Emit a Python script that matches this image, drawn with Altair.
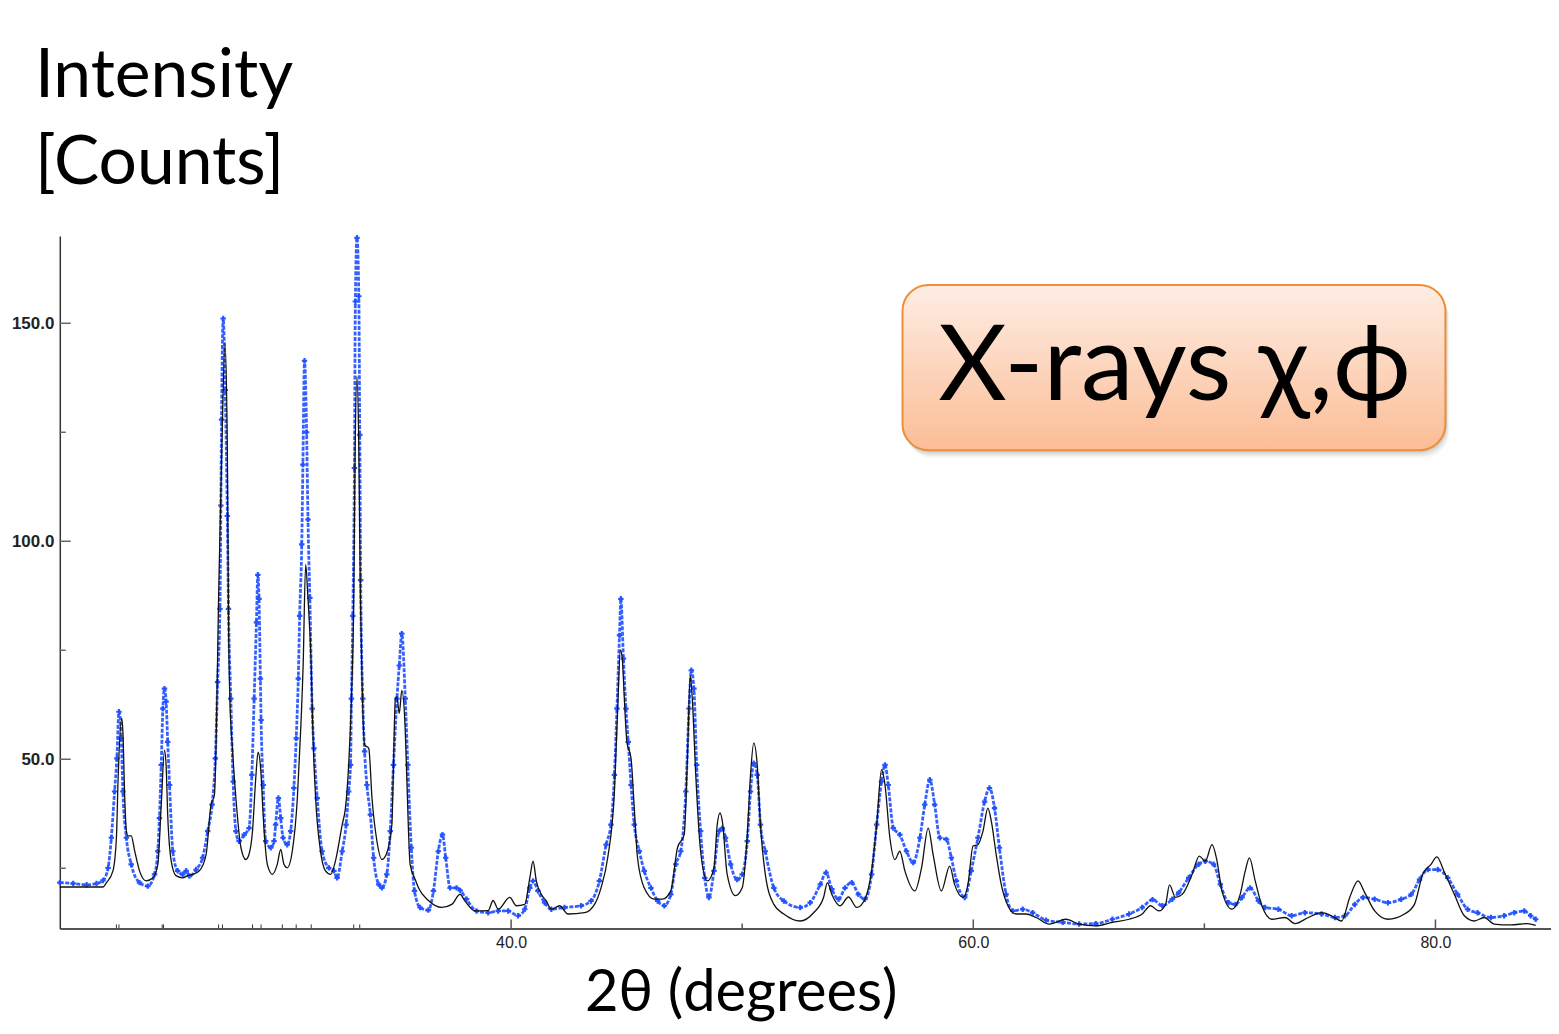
import altair as alt
import pandas as pd

# ---- data (2theta in degrees, intensity in counts) ----
calc_tth = [20.47, 21.63, 22.34, 22.49, 22.77, 22.92, 22.99, 23.15, 23.20, 23.28, 23.35, 23.42, 23.56, 23.71,
            23.92, 24.21, 24.50, 24.71, 24.86, 25.00, 25.07, 25.14, 25.29, 25.50, 25.79, 26.00, 26.22, 26.51,
            26.80, 27.01, 27.16, 27.23, 27.34, 27.48, 27.62, 27.72, 27.77, 27.83, 27.94, 28.09, 28.31, 28.52,
            28.66, 28.81, 28.95, 29.05, 29.17, 29.27, 29.45, 29.67, 29.88, 30.03, 30.17, 30.31, 30.53, 30.75,
            30.89, 31.00, 31.11, 31.21, 31.35, 31.42, 31.54, 31.75, 31.97, 32.19, 32.40, 32.69, 32.83, 32.97,
            33.09, 33.19, 33.25, 33.33, 33.41, 33.48, 33.55, 33.66, 33.84, 33.98, 34.19, 34.41, 34.62, 34.84,
            34.91, 34.99, 35.06, 35.16, 35.27, 35.42, 35.49, 35.63, 35.85, 35.99, 36.42, 37.00, 37.43, 37.79,
            38.00, 38.44, 39.01, 39.22, 39.44, 39.94, 40.23, 40.59, 40.81, 40.95, 41.09, 41.31, 41.52, 41.74,
            42.10, 42.46, 43.18, 43.61, 43.89, 44.18, 44.47, 44.61, 44.73, 44.81, 44.90, 45.01, 45.19, 45.33,
            45.47, 45.76, 46.19, 46.55, 46.91, 47.20, 47.49, 47.63, 47.75, 47.84, 47.99, 48.20, 48.49, 48.78,
            48.92, 49.04, 49.14, 49.35, 49.71, 50.00, 50.22, 50.36, 50.50, 50.65, 50.79, 51.00, 51.37, 51.80,
            52.51, 53.09, 53.52, 53.69, 53.88, 54.24, 54.60, 54.96, 55.31, 55.60, 55.82, 56.03, 56.18, 56.39,
            56.61, 56.82, 57.04, 57.47, 57.76, 58.05, 58.26, 58.62, 58.98, 59.19, 59.56, 59.77, 59.99, 60.20,
            60.42, 60.63, 60.78, 60.99, 61.21, 61.50, 61.85, 62.28, 62.72, 63.29, 64.01, 64.58, 65.30, 66.02,
            66.74, 67.31, 67.67, 68.03, 68.32, 68.49, 68.75, 69.04, 69.47, 69.78, 70.04, 70.33, 70.55, 70.76,
            71.19, 71.55, 71.77, 71.95, 72.20, 72.49, 72.92, 73.49, 73.92, 74.50, 75.07, 75.50, 75.94, 76.29,
            76.65, 76.94, 77.37, 77.94, 78.66, 79.09, 79.45, 79.81, 80.06, 80.39, 80.82, 81.25, 81.68, 82.11,
            82.54, 83.26, 83.98, 84.34]
calc_int = [20.7, 20.7, 20.7, 21.7, 24.4, 32.0, 45.0, 59.4, 56.3, 41.1, 33.6, 32.4, 32.4, 29.0,
            24.4, 22.1, 22.8, 25.8, 39.5, 52.1, 48.7, 37.2, 26.7, 23.3, 22.8, 23.3, 23.6, 24.4,
            28.1, 39.5, 41.8, 52.5, 86.8, 121.0, 145.5, 121.0, 82.2, 63.9, 52.5, 41.1, 29.7, 27.0,
            28.2, 33.6, 45.7, 51.6, 47.3, 37.2, 25.9, 23.6, 25.9, 29.3, 25.9, 25.1, 28.9, 41.1,
            56.3, 71.5, 94.7, 86.8, 71.5, 56.4, 41.1, 29.0, 24.4, 23.6, 26.7, 35.0, 38.8, 48.7,
            63.9, 86.8, 121.0, 137.9, 121.0, 86.8, 67.8, 53.3, 52.5, 41.1, 31.3, 27.0, 28.5, 35.0,
            48.7, 63.9, 64.3, 60.5, 65.8, 56.4, 45.0, 25.9, 22.4, 20.5, 17.6, 16.0, 16.7, 19.0,
            17.5, 15.2, 15.3, 17.6, 15.6, 18.3, 16.4, 16.7, 22.8, 26.6, 22.1, 19.0, 17.5, 15.6,
            16.4, 14.5, 14.8, 16.7, 20.5, 27.4, 42.6, 61.6, 75.0, 73.1, 63.9, 54.0, 50.2, 38.8,
            27.4, 20.5, 17.9, 17.9, 19.8, 29.7, 32.7, 50.2, 69.2, 63.9, 46.4, 28.9, 22.1, 25.1,
            35.0, 37.7, 35.8, 23.6, 18.7, 20.5, 32.7, 46.4, 53.7, 48.7, 35.0, 23.6, 16.7, 14.5,
            12.9, 14.8, 18.3, 21.7, 19.0, 16.4, 18.4, 16.0, 17.9, 24.4, 35.0, 47.6, 44.1, 32.0,
            27.0, 28.9, 24.4, 19.8, 25.1, 34.2, 28.2, 19.8, 25.5, 21.3, 18.3, 21.3, 30.1, 30.4,
            33.5, 38.8, 35.8, 28.2, 21.3, 16.4, 14.5, 14.5, 13.7, 12.2, 13.3, 12.2, 11.8, 12.6,
            13.3, 14.5, 16.4, 15.2, 16.7, 21.2, 18.3, 19.0, 23.6, 27.8, 26.6, 30.4, 26.6, 19.8,
            15.6, 19.0, 24.4, 27.4, 22.1, 16.4, 13.3, 13.7, 12.3, 13.7, 14.8, 14.1, 12.9, 18.3,
            22.1, 19.4, 15.2, 13.3, 14.5, 16.7, 23.6, 25.9, 27.6, 24.0, 19.0, 14.1, 12.9, 13.7,
            12.2, 12.0, 12.3, 11.9]

obs_tth = [20.47, 21.05, 21.63, 22.06, 22.34, 22.56, 22.70, 22.84, 22.94, 23.03, 23.13, 23.20, 23.35, 23.56,
           23.92, 24.28, 24.57, 24.71, 24.78, 24.86, 24.93, 25.00, 25.07, 25.14, 25.22, 25.36, 25.57, 25.79,
           25.94, 26.08, 26.37, 26.65, 26.87, 27.06, 27.20, 27.30, 27.40, 27.44, 27.47, 27.54, 27.63, 27.72,
           27.77, 27.87, 27.97, 28.09, 28.23, 28.45, 28.66, 28.78, 28.88, 28.98, 29.04, 29.09, 29.15, 29.18,
           29.27, 29.38, 29.60, 29.74, 29.81, 29.93, 30.03, 30.13, 30.31, 30.46, 30.60, 30.70, 30.79, 30.85,
           30.94, 30.99, 31.06, 31.15, 31.21, 31.29, 31.39, 31.47, 31.61, 31.82, 32.11, 32.33, 32.47, 32.69,
           32.86, 32.97, 33.05, 33.09, 33.15, 33.22, 33.26, 33.33, 33.41, 33.45, 33.49, 33.58, 33.66, 33.76,
           33.91, 34.05, 34.27, 34.41, 34.62, 34.77, 34.91, 35.06, 35.16, 35.27, 35.42, 35.53, 35.68, 35.82,
           36.06, 36.42, 36.64, 36.85, 37.03, 37.17, 37.36, 37.64, 37.80, 38.07, 38.50, 39.01, 39.44, 39.87,
           40.30, 40.59, 40.81, 40.95, 41.16, 41.45, 41.74, 42.31, 43.03, 43.46, 43.82, 44.11, 44.32, 44.47,
           44.58, 44.69, 44.75, 44.86, 44.97, 45.07, 45.19, 45.33, 45.55, 45.76, 46.05, 46.34, 46.63, 46.91,
           47.13, 47.34, 47.56, 47.70, 47.80, 47.91, 48.03, 48.20, 48.38, 48.56, 48.78, 49.00, 49.14, 49.28,
           49.50, 49.78, 50.00, 50.22, 50.36, 50.50, 50.65, 50.79, 51.00, 51.37, 51.80, 52.51, 52.94, 53.38,
           53.63, 53.88, 54.17, 54.45, 54.74, 55.03, 55.31, 55.60, 55.82, 56.03, 56.18, 56.32, 56.54, 56.82,
           57.11, 57.40, 57.69, 57.90, 58.12, 58.33, 58.55, 58.84, 59.05, 59.27, 59.63, 59.91, 60.20, 60.49,
           60.70, 60.92, 61.13, 61.42, 61.71, 62.14, 62.57, 63.15, 63.87, 64.58, 65.30, 66.02, 66.74, 67.31,
           67.76, 68.18, 68.61, 68.89, 69.32, 69.75, 70.04, 70.40, 70.69, 71.05, 71.34, 71.63, 71.98, 72.34,
           72.63, 73.20, 73.78, 74.35, 75.07, 75.65, 76.08, 76.51, 76.87, 77.37, 77.94, 78.52, 78.95, 79.31,
           79.67, 80.10, 80.53, 80.96, 81.39, 81.82, 82.40, 82.97, 83.41, 83.84, 84.12, 84.34]
obs_int = [21.7, 21.5, 21.2, 21.5, 22.2, 25.1, 32.0, 42.6, 50.2, 60.9, 54.8, 42.6, 32.0, 25.9,
           21.7, 20.9, 23.6, 28.9, 36.5, 48.7, 61.6, 66.2, 63.2, 54.0, 44.1, 28.9, 24.4, 23.6,
           24.4, 23.2, 24.7, 27.4, 33.5, 39.6, 50.2, 67.7, 84.5, 108.2, 127.9, 151.1, 134.7, 105.8,
           84.5, 63.9, 44.9, 33.5, 31.2, 32.7, 34.2, 46.4, 63.9, 81.4, 92.3, 86.8, 68.5, 59.0,
           44.1, 31.2, 29.7, 31.2, 35.0, 41.1, 36.5, 32.0, 30.4, 33.5, 43.4, 54.8, 68.5, 82.9,
           99.3, 117.6, 141.4, 125.0, 105.0, 87.0, 61.6, 52.5, 41.1, 28.9, 25.1, 24.4, 22.8, 28.9,
           35.0, 42.6, 48.7, 63.9, 82.9, 116.8, 155.0, 169.6, 156.2, 124.4, 91.1, 63.9, 51.8, 44.1,
           37.3, 27.4, 21.3, 20.5, 23.6, 33.5, 48.7, 63.9, 71.5, 78.8, 63.9, 48.7, 29.7, 19.8,
           16.0, 15.4, 19.8, 28.9, 32.7, 27.4, 20.5, 20.5, 19.9, 17.9, 15.2, 14.8, 15.2, 15.2,
           14.1, 15.6, 20.5, 22.1, 19.8, 17.1, 15.6, 16.0, 16.4, 17.5, 22.1, 30.4, 35.0, 46.4,
           61.6, 78.4, 86.8, 73.1, 61.6, 54.0, 44.1, 35.0, 28.9, 24.4, 20.5, 17.5, 16.4, 19.0,
           25.9, 28.9, 42.6, 61.6, 70.4, 66.2, 48.7, 33.5, 22.8, 18.3, 24.4, 33.5, 34.2, 32.0,
           25.9, 22.4, 23.6, 31.2, 42.6, 49.1, 46.4, 35.0, 28.9, 20.5, 17.5, 16.0, 17.1, 21.3,
           24.0, 20.2, 17.9, 20.5, 21.7, 19.0, 17.9, 23.6, 35.0, 44.9, 48.7, 44.1, 34.2, 32.7,
           28.9, 26.3, 32.0, 39.6, 45.3, 39.6, 32.0, 31.6, 27.4, 22.1, 18.3, 24.4, 32.0, 40.3,
           43.4, 38.8, 29.7, 19.0, 15.2, 15.6, 14.8, 13.1, 12.6, 12.2, 12.3, 13.3, 14.5, 16.0,
           17.8, 16.4, 17.9, 19.4, 22.8, 25.9, 26.6, 25.9, 21.3, 17.1, 16.7, 18.3, 20.5, 17.5,
           16.0, 15.6, 14.1, 14.8, 14.5, 13.7, 14.1, 16.7, 18.3, 17.9, 17.1, 17.9, 19.0, 22.4,
           24.7, 24.7, 22.8, 19.0, 15.6, 14.8, 13.7, 14.1, 14.8, 15.2, 14.1, 13.3]

reflections = [22.92, 23.03, 24.90, 24.96, 27.34, 27.51, 28.81, 29.18, 30.10, 30.70, 31.35, 33.19, 33.45]
x_major = [40, 60, 80]
x_minor = [50, 70]
y_major = [50, 100, 150]
y_minor = [25, 75, 125]

y_title_lines = ["Intensity", "[Counts]"]
x_title = "2θ (degrees)"
badge_text = "X-rays χ,ϕ"

# ---- layout ----
W, H = 1497, 695
xs = alt.Scale(domain=[20.47, 85.0], nice=False, zero=False)
ys = alt.Scale(domain=[11.2, 170.0], nice=False, zero=False)
BLUE = "#1f4fff"
TITLE_FONT = "Lato"
TICK_FONT = "Liberation Sans, Arial, sans-serif"

obs = pd.DataFrame({"tth": obs_tth, "I": obs_int})
calc = pd.DataFrame({"tth": calc_tth, "I": calc_int})

x_axis = alt.Axis(values=x_major, format=".1f", ticks=False, grid=False, title=None,
                  labelFont=TICK_FONT, labelFontSize=16, labelColor="#222",
                  labelPadding=6, domainColor="#555", domainWidth=2)
y_axis = alt.Axis(values=y_major, format=".1f", ticks=False, grid=False, title=None,
                  labelFont=TICK_FONT, labelFontSize=17, labelFontWeight="bold", labelColor="#222",
                  labelPadding=6, domainColor="#333", domainWidth=1.5)

X = lambda f: alt.X(f, scale=xs, axis=x_axis)
Y = lambda f: alt.Y(f, scale=ys, axis=y_axis)

obs_line = alt.Chart(obs).mark_line(color=BLUE, strokeWidth=2.8, strokeDash=[4, 1.5], opacity=0.9,
                                    interpolate="monotone").encode(x=X("tth:Q"), y=Y("I:Q"))
obs_pts = alt.Chart(obs).mark_point(shape="cross", filled=True, size=30, color=BLUE, opacity=0.95).encode(
    x=X("tth:Q"), y=Y("I:Q"))
calc_line = alt.Chart(calc).mark_line(color="#111", strokeWidth=1.3, interpolate="monotone").encode(
    x=X("tth:Q"), y=Y("I:Q"))

# inward ticks
def xticks(vals, length, width=1.5, color="#555"):
    return alt.Chart(pd.DataFrame({"tth": vals})).mark_rule(color=color, strokeWidth=width).encode(
        x=X("tth:Q"), y=alt.value(H), y2=alt.value(H - length))

def yticks(vals, length, width=1.5, color="#666"):
    return alt.Chart(pd.DataFrame({"I": vals})).mark_rule(color=color, strokeWidth=width).encode(
        y=Y("I:Q"), x=alt.value(0), x2=alt.value(length))

ticks = [xticks(x_major, 9), xticks(x_minor, 5), xticks(reflections, 4, 1, "#333"),
         yticks(y_major, 11), yticks(y_minor, 6)]

# annotation texts
one = pd.DataFrame({"k": [0]})
def label(txt, x, y, size, align="left"):
    return alt.Chart(one).mark_text(text=txt, font=TITLE_FONT, fontSize=size, align=align,
                                    baseline="alphabetic", color="#000").encode(
        x=alt.value(x), y=alt.value(y))

texts = [label(y_title_lines[0], -25, -140, 68),
         label(y_title_lines[1], -25, -52, 68),
         label(x_title, 684, 778, 58, "center")]

# badge box
BX1, BX2, BY1, BY2 = 846, 1391, 49, 215
shadows = []
for dx, dy, op in [(1, 2, 0.12), (2, 4, 0.10), (3, 6, 0.07), (4, 8, 0.04)]:
    shadows.append(alt.Chart(one).mark_rect(color="#555", opacity=op, cornerRadius=26).encode(
        x=alt.value(BX1 + dx), x2=alt.value(BX2 + dx), y=alt.value(BY1 + dy), y2=alt.value(BY2 + dy)))
grad = alt.LinearGradient(gradient="linear", x1=0, y1=0, x2=0, y2=1,
                          stops=[alt.GradientStop(offset=0, color="#FEEDE4"),
                                 alt.GradientStop(offset=1, color="#FBBD96")])
box = alt.Chart(one).mark_rect(fill=grad, stroke="#EE8E36", strokeWidth=2, cornerRadius=26).encode(
    x=alt.value(BX1), x2=alt.value(BX2), y=alt.value(BY1), y2=alt.value(BY2))
badge = label(badge_text, 1119, 165, 106, "center")

chart = alt.layer(obs_line, obs_pts, calc_line, *ticks, *texts, *shadows, box, badge).properties(
    width=W, height=H,
    padding={"left": 52, "top": 227, "right": 0, "bottom": 96},
    autosize="none",
    background="white",
).configure_view(stroke="transparent", strokeWidth=0)

chart.save("out.html", embed_options={"renderer": "svg", "actions": False})
